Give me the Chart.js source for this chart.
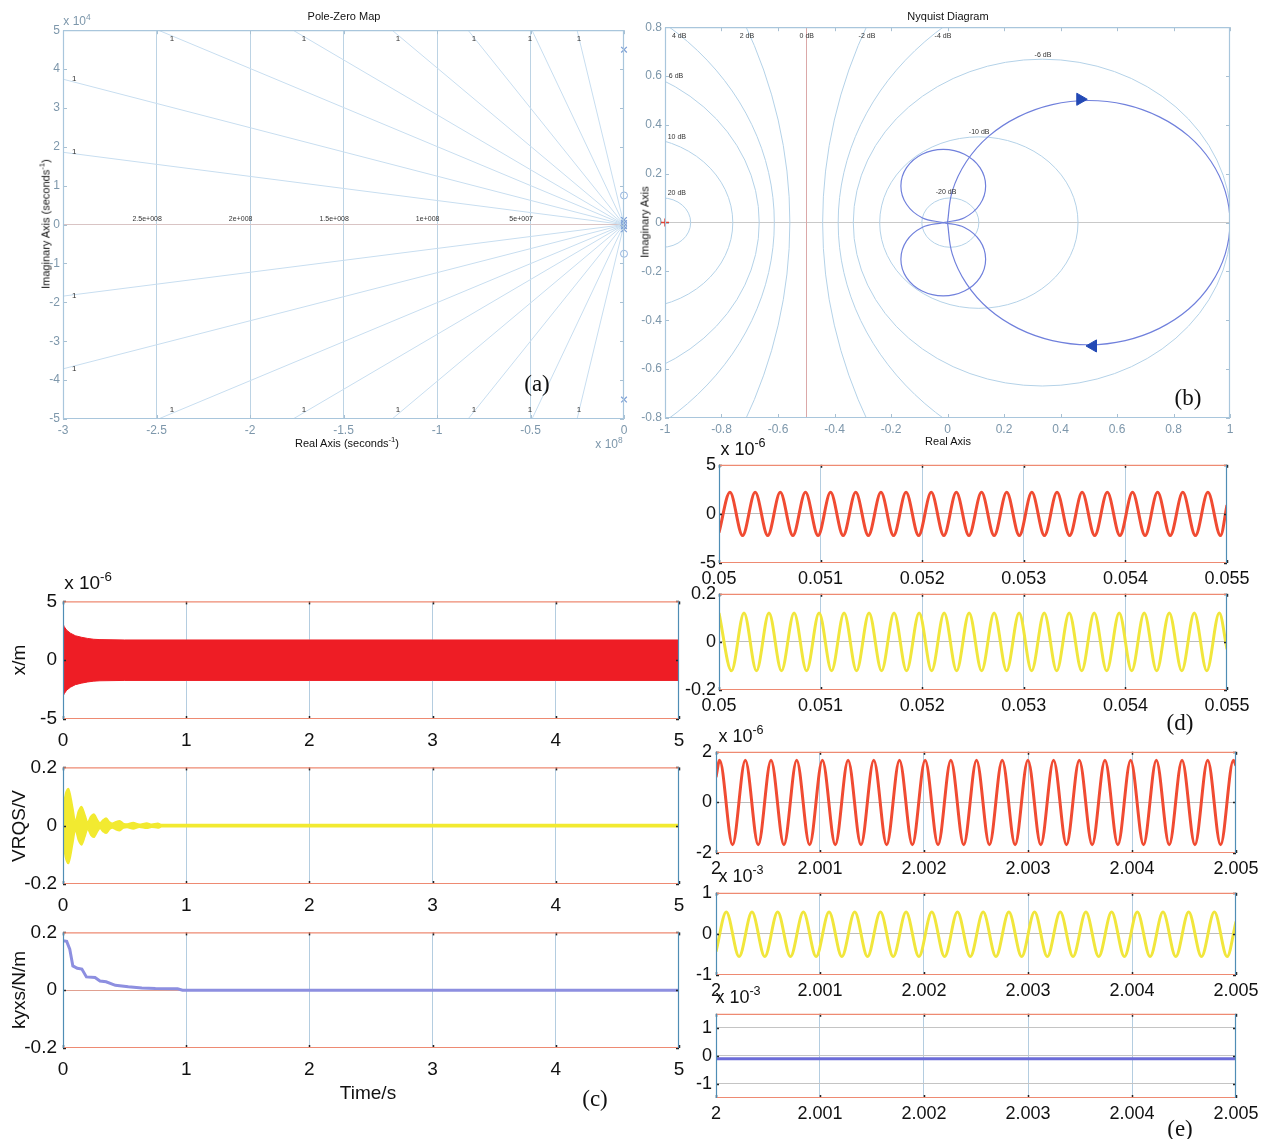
<!DOCTYPE html>
<html><head><meta charset="utf-8">
<script src="https://cdn.jsdelivr.net/npm/chart.js@4.4.1/dist/chart.umd.min.js"></script>
<style>
html,body{margin:0;padding:0;background:#fff;}
#wrap{position:relative;width:1265px;height:1139px;overflow:hidden;font-family:"Liberation Sans",Arial,sans-serif;color:#111;}
canvas{position:absolute;}
.t{position:absolute;white-space:nowrap;transform:translate(-50%,-50%);line-height:1;}
.rot{transform:translate(-50%,-50%) rotate(-90deg);}
.pl{font-family:"Liberation Serif","Times New Roman",serif;font-size:23px;}
sup{font-size:70%;vertical-align:0.6em;line-height:0;}
</style></head><body><div id="wrap"></div>
<script>
// ---------------- DATA ----------------
// (a) Pole-Zero Map  (real part in 1e8 s^-1, imaginary part in 1e4 s^-1)
const pzTickX = [-3,-2.5,-2,-1.5,-1,-0.5,0];
const pzTickXLabels = ['-3','-2.5','-2','-1.5','-1','-0.5','0'];
const pzTickY = [-5,-4,-3,-2,-1,0,1,2,3,4,5];
const pzTickYLabels = ['-5','-4','-3','-2','-1','0','1','2','3','4','5'];
const pzPoleRe = [0,0,0,0,0,0];
const pzPoleIm = [4.5,-4.5,0.12,-0.12,0.04,-0.04];
const pzZeroRe = [0,0];
const pzZeroIm = [0.75,-0.75];
const pzDampEndRe = [-3,-3,-2.49,-1.77,-1.24,-0.834,-0.492,-0.251,-3,-3,-2.49,-1.77,-1.24,-0.834,-0.492,-0.251];
const pzDampEndIm = [3.74,1.86,5,5,5,5,5,5,-3.71,-1.84,-5,-5,-5,-5,-5,-5];
const pzDampLabelRe = [-2.417,-1.711,-1.209,-0.802,-0.503,-0.241,-2.417,-1.711,-1.209,-0.802,-0.503,-0.241,-2.94,-2.94,-2.94,-2.94];
const pzDampLabelIm = [4.78,4.78,4.78,4.78,4.78,4.78,-4.76,-4.76,-4.76,-4.76,-4.76,-4.76,3.74,1.86,-1.84,-3.71];
const pzDampLabelText = ['1','1','1','1','1','1','1','1','1','1','1','1','1','1','1','1'];
const pzFreqLabelText = ['2.5e+008','2e+008','1.5e+008','1e+008','5e+007'];
const pzFreqLabelRe = [-2.55,-2.05,-1.55,-1.05,-0.55];
const pzFreqLabelIm = [0.13,0.13,0.13,0.13,0.13];

// (b) Nyquist Diagram
const nqTickX = [-1,-0.8,-0.6,-0.4,-0.2,0,0.2,0.4,0.6,0.8,1];
const nqTickXLabels = ['-1','-0.8','-0.6','-0.4','-0.2','0','0.2','0.4','0.6','0.8','1'];
const nqTickY = [-0.8,-0.6,-0.4,-0.2,0,0.2,0.4,0.6,0.8];
const nqTickYLabels = ['-0.8','-0.6','-0.4','-0.2','0','0.2','0.4','0.6','0.8'];
const mCircleCenter = [-1.0101,-1.111,-1.3355,-1.661,-2.71,1.71,0.661,0.3355,0.111,0.0101];
const mCircleRadius = [0.101,0.351,0.669,1.048,2.152,2.152,1.048,0.669,0.351,0.101];
const zeroDbLineRe = -0.5;
const nqLabelText = ['4 dB','2 dB','0 dB','-2 dB','-4 dB','-6 dB','-10 dB','-20 dB','6 dB','10 dB','20 dB'];
const nqLabelRe = [-0.950,-0.710,-0.498,-0.285,-0.016,0.338,0.112,-0.005,-0.961,-0.958,-0.958];
const nqLabelIm = [0.763,0.763,0.763,0.763,0.763,0.685,0.370,0.125,0.599,0.350,0.121];
const nqBigRe = [0,0.017,0.067,0.146,0.25,0.371,0.5,0.629,0.75,0.854,0.933,0.983,1,0.983,0.933,0.854,0.75,0.629,0.5,0.371,0.25,0.146,0.067,0.017,0];
const nqBigIm = [0,0.129,0.25,0.354,0.433,0.483,0.5,0.483,0.433,0.354,0.25,0.129,0,-0.129,-0.25,-0.354,-0.433,-0.483,-0.5,-0.483,-0.433,-0.354,-0.25,-0.129,0];
const nqLoopURe = [-0.015,0.06,0.115,0.135,0.115,0.06,-0.015,-0.09,-0.145,-0.165,-0.145,-0.09,-0.015];
const nqLoopUIm = [0,0.02,0.075,0.15,0.225,0.28,0.30,0.28,0.225,0.15,0.075,0.02,0];
const nqLoopLRe = [-0.015,0.06,0.115,0.135,0.115,0.06,-0.015,-0.09,-0.145,-0.165,-0.145,-0.09,-0.015];
const nqLoopLIm = [0,-0.02,-0.075,-0.15,-0.225,-0.28,-0.30,-0.28,-0.225,-0.15,-0.075,-0.02,0];
const nqArrowRe = [0.47,0.515];
const nqArrowIm = [0.505,-0.505];
const nqArrowRot = [90,-90];
const nqCriticalRe = [-1];
const nqCriticalIm = [0];

// (c) time responses 0..5 s
const cTickX = [0,1,2,3,4,5];
const cTickXLabels = ['0','1','2','3','4','5'];
const c1TickY = [-5,0,5];       const c1TickYLabels = ['-5','0','5'];
const c2TickY = [-0.2,0,0.2];   const c2TickYLabels = ['-0.2','0','0.2'];
const xEnvT = [0,0.01,0.03,0.06,0.1,0.15,0.2,0.25,0.3,0.5,1,2,3,4,5];
const xEnvUp = [3.1,2.85,2.55,2.3,2.08,1.95,1.85,1.78,1.75,1.72,1.72,1.72,1.72,1.72,1.72];
const xEnvLow = [-3.1,-2.85,-2.55,-2.3,-2.08,-1.95,-1.85,-1.78,-1.75,-1.72,-1.72,-1.72,-1.72,-1.72,-1.72];
const vEnvT = [0,0.012,0.044,0.08,0.1,0.125,0.15,0.18,0.2,0.225,0.25,0.28,0.3,0.325,0.35,0.38,0.4,0.43,0.46,0.49,0.52,0.57,0.62,0.68,0.72,0.77,0.8,1,5];
const vEnvUp = [0.03,0.09,0.128,0.06,0.016,0.05,0.066,0.035,0.012,0.032,0.04,0.02,0.01,0.02,0.026,0.012,0.008,0.014,0.017,0.008,0.006,0.011,0.005,0.009,0.005,0.008,0.004,0.004,0.004];
const vEnvLow = [-0.03,-0.09,-0.13,-0.06,-0.016,-0.05,-0.066,-0.035,-0.012,-0.032,-0.04,-0.02,-0.01,-0.02,-0.026,-0.012,-0.008,-0.014,-0.017,-0.008,-0.006,-0.011,-0.005,-0.009,-0.005,-0.008,-0.004,-0.004,-0.004];
const kT = [0,0.03,0.055,0.08,0.116,0.153,0.19,0.26,0.3,0.35,0.425,0.53,0.64,0.75,0.93,0.97,5];
const kV = [0.171,0.169,0.142,0.084,0.076,0.073,0.046,0.044,0.032,0.029,0.017,0.012,0.008,0.006,0.005,0,0];

// (d) zoom 0.05..0.055 s
const dTickX = [0.05,0.051,0.052,0.053,0.054,0.055];
const dTickXLabels = ['0.05','0.051','0.052','0.053','0.054','0.055'];
const d1T = [0.05,0.050108,0.050232,0.050356,0.050480,0.050603,0.050727,0.050851,0.050975,0.051098,0.051222,0.051346,0.051470,0.051594,0.051718,0.051841,0.051965,0.052089,0.052213,0.052336,0.052460,0.052584,0.052708,0.052832,0.052956,0.053079,0.053203,0.053327,0.053451,0.053574,0.053698,0.053822,0.053946,0.054070,0.054194,0.054317,0.054441,0.054565,0.054689,0.054812,0.054936,0.055];
const d1V = [-1.9,2.2,-2.2,2.2,-2.2,2.2,-2.2,2.2,-2.2,2.2,-2.2,2.2,-2.2,2.2,-2.2,2.2,-2.2,2.2,-2.2,2.2,-2.2,2.2,-2.2,2.2,-2.2,2.2,-2.2,2.2,-2.2,2.2,-2.2,2.2,-2.2,2.2,-2.2,2.2,-2.2,2.2,-2.2,2.2,-2.2,0.9];
const d2T = [0.05,0.050123,0.050246,0.050369,0.050492,0.050615,0.050739,0.050862,0.050985,0.051108,0.051231,0.051354,0.051477,0.051600,0.051723,0.051846,0.051970,0.052093,0.052216,0.052339,0.052462,0.052585,0.052708,0.052831,0.052954,0.053077,0.053201,0.053324,0.053447,0.053570,0.053693,0.053816,0.053939,0.054062,0.054185,0.054308,0.054432,0.054555,0.054678,0.054801,0.054924,0.055];
const d2V = [0.12,-0.12,0.12,-0.12,0.12,-0.12,0.12,-0.12,0.12,-0.12,0.12,-0.12,0.12,-0.12,0.12,-0.12,0.12,-0.12,0.12,-0.12,0.12,-0.12,0.12,-0.12,0.12,-0.12,0.12,-0.12,0.12,-0.12,0.12,-0.12,0.12,-0.12,0.12,-0.12,0.12,-0.12,0.12,-0.12,0.12,-0.03];

// (e) zoom 2..2.005 s
const eTickX = [2,2.001,2.002,2.003,2.004,2.005];
const eTickXLabels = ['2','2.001','2.002','2.003','2.004','2.005'];
const e1TickY = [-2,0,2];  const e1TickYLabels = ['-2','0','2'];
const e2TickY = [-1,0,1];  const e2TickYLabels = ['-1','0','1'];
const e1T = [2,2.000035,2.000159,2.000282,2.000406,2.000529,2.000653,2.000776,2.000900,2.001023,2.001147,2.001270,2.001394,2.001517,2.001641,2.001764,2.001888,2.002011,2.002135,2.002258,2.002382,2.002505,2.002629,2.002752,2.002876,2.002999,2.003123,2.003246,2.003370,2.003493,2.003617,2.003740,2.003864,2.003987,2.004111,2.004234,2.004358,2.004481,2.004605,2.004728,2.004852,2.004975,2.005];
const e1V = [1.0,1.67,-1.67,1.67,-1.67,1.67,-1.67,1.67,-1.67,1.67,-1.67,1.67,-1.67,1.67,-1.67,1.67,-1.67,1.67,-1.67,1.67,-1.67,1.67,-1.67,1.67,-1.67,1.67,-1.67,1.67,-1.67,1.67,-1.67,1.67,-1.67,1.67,-1.67,1.67,-1.67,1.67,-1.67,1.67,-1.67,1.67,1.45];
const e2T = [2,2.000099,2.000222,2.000346,2.000469,2.000593,2.000716,2.000840,2.000963,2.001087,2.001210,2.001334,2.001457,2.001581,2.001704,2.001828,2.001951,2.002075,2.002198,2.002322,2.002445,2.002569,2.002692,2.002816,2.002939,2.003063,2.003186,2.003310,2.003433,2.003557,2.003680,2.003804,2.003927,2.004051,2.004174,2.004298,2.004421,2.004545,2.004668,2.004792,2.004915,2.005];
const e2V = [-0.43,0.53,-0.55,0.53,-0.55,0.53,-0.55,0.53,-0.55,0.53,-0.55,0.53,-0.55,0.53,-0.55,0.53,-0.55,0.53,-0.55,0.53,-0.55,0.53,-0.55,0.53,-0.55,0.53,-0.55,0.53,-0.55,0.53,-0.55,0.53,-0.55,0.53,-0.55,0.53,-0.55,0.53,-0.55,0.53,-0.55,0.3];
const e3T = [2,2.005];
const e3V = [-0.1,-0.1];

// ---------------- RENDERING ----------------
Chart.defaults.font.family = '"Liberation Sans", Arial, sans-serif';
Chart.defaults.animation = false;
const wrap = document.getElementById('wrap');
const pts = (xs, ys) => xs.map((x, i) => ({x: x, y: ys[i]}));

function text(html, x, y, style, cls) {
  const d = document.createElement('div');
  d.className = 't' + (cls ? ' ' + cls : '');
  d.innerHTML = html;
  d.style.left = x + 'px'; d.style.top = y + 'px';
  if (style) d.setAttribute('style', d.getAttribute('style') + ';' + style);
  wrap.appendChild(d);
}

const framePlugin = {
  id: 'frame',
  afterDraw(chart, args, o) {
    if (!o || !o.left) return;
    const {ctx, chartArea: a, scales} = chart;
    const ln = (x1, y1, x2, y2, c, w) => { ctx.strokeStyle = c; ctx.lineWidth = w || 1; ctx.beginPath(); ctx.moveTo(x1, y1); ctx.lineTo(x2, y2); ctx.stroke(); };
    ctx.save();
    if (o.tick) {
      const L = o.tickLen || 3;
      scales.x.ticks.forEach(t => { const x = Math.round(scales.x.getPixelForValue(t.value)) + 0.5; ln(x, a.top, x, a.top + L, o.tick, o.tickW); ln(x, a.bottom, x, a.bottom - L, o.tick, o.tickW); });
      scales.y.ticks.forEach(t => { const y = Math.round(scales.y.getPixelForValue(t.value)) + 0.5; ln(a.left, y, a.left + L, y, o.tick, o.tickW); ln(a.right, y, a.right - L, y, o.tick, o.tickW); });
    }
    ln(a.left, a.top + 0.5, a.right, a.top + 0.5, o.top, 1.2);
    ln(a.left, a.bottom - 0.5, a.right, a.bottom - 0.5, o.bottom, 1.2);
    ln(a.left + 0.5, a.top, a.left + 0.5, a.bottom, o.left, 1.2);
    ln(a.right - 0.5, a.top, a.right - 0.5, a.bottom, o.right, 1.2);
    ctx.restore();
  }
};
const labelPlugin = {
  id: 'plotLabels',
  afterDatasetsDraw(chart, args, o) {
    if (!o || !o.sets) return;
    const {ctx, scales: {x, y}} = chart;
    ctx.save();
    ctx.textAlign = 'center'; ctx.textBaseline = 'middle';
    o.sets.forEach(s => {
      ctx.font = s.font; ctx.fillStyle = s.color;
      s.x.forEach((xv, i) => ctx.fillText(s.text[i], x.getPixelForValue(xv), y.getPixelForValue(s.y[i])));
    });
    ctx.restore();
  }
};
const circlePlugin = {
  id: 'mcircles',
  beforeDatasetsDraw(chart, args, o) {
    if (!o || !o.cx) return;
    const {ctx, chartArea: a, scales: {x, y}} = chart;
    ctx.save();
    ctx.beginPath(); ctx.rect(a.left, a.top, a.right - a.left, a.bottom - a.top); ctx.clip();
    ctx.strokeStyle = o.color; ctx.lineWidth = 1;
    o.cx.forEach((c, i) => {
      const px = x.getPixelForValue(c), py = y.getPixelForValue(0);
      const rx = Math.abs(x.getPixelForValue(c + o.r[i]) - px), ry = Math.abs(y.getPixelForValue(o.r[i]) - py);
      ctx.beginPath(); ctx.ellipse(px, py, rx, ry, 0, 0, Math.PI * 2); ctx.stroke();
    });
    const vx = Math.round(x.getPixelForValue(o.vline)) + 0.5;
    ctx.strokeStyle = o.vlineColor; ctx.beginPath(); ctx.moveTo(vx, a.top); ctx.lineTo(vx, a.bottom); ctx.stroke();
    ctx.restore();
  }
};
Chart.register(framePlugin, labelPlugin, circlePlugin);

function axis(min, max, vals, labels, o) {
  return {
    type: 'linear', min: min, max: max,
    afterBuildTicks: s => { s.ticks = vals.map(v => ({value: v})); },
    ticks: {autoSkip: false, maxRotation: 0, minRotation: 0, padding: o.pad, color: o.color || '#111',
            font: {size: o.size}, callback: (v, i) => labels[i]},
    grid: {drawTicks: false, lineWidth: 1,
           color: c => (c.tick && o.grid && o.grid.indexOf(c.tick.value) >= 0) ? o.gridColor : 'rgba(0,0,0,0)'},
    border: {display: false}
  };
}

function mk(b, type, datasets, xs, ys, plugins) {
  const c = document.createElement('canvas');
  const w = b.R - b.L + b.ML + b.MR, h = b.B - b.T + b.MT + b.MB;
  c.width = w; c.height = h;
  c.style.width = w + 'px'; c.style.height = h + 'px';
  c.style.left = (b.L - b.ML) + 'px'; c.style.top = (b.T - b.MT) + 'px';
  wrap.appendChild(c);
  xs.afterFit = s => { s.height = b.MB; };
  ys.afterFit = s => { s.width = b.ML; };
  const chart = new Chart(c, {
    type: type,
    data: {datasets: datasets},
    options: {
      responsive: false, maintainAspectRatio: false, animation: false, devicePixelRatio: 1,
      layout: {autoPadding: false, padding: {left: 0, top: b.MT, right: b.MR, bottom: 0}},
      scales: {x: xs, y: ys},
      plugins: Object.assign({legend: {display: false}, tooltip: {enabled: false}}, plugins || {})
    }
  });
  // align the plot area with the reference position
  let a = chart.chartArea;
  const dw = Math.round((b.R - b.L) - (a.right - a.left));
  const dh = Math.round((b.B - b.T) - (a.bottom - a.top));
  if (dw || dh) { chart.resize(w + dw, h + dh); a = chart.chartArea; }
  c.style.left = Math.round(b.L - a.left) + 'px';
  c.style.top = Math.round(b.T - a.top) + 'px';
  return chart;
}

const boxA = {L: 63, T: 30, R: 624, B: 419, ML: 40, MT: 6, MR: 14, MB: 26};
const boxB = {L: 665, T: 27, R: 1230, B: 418, ML: 40, MT: 6, MR: 14, MB: 26};
const boxC1 = {L: 63, T: 601, R: 679, B: 719, ML: 56, MT: 8, MR: 22, MB: 34};
const boxC2 = {L: 63, T: 767, R: 679, B: 884, ML: 56, MT: 8, MR: 22, MB: 34};
const boxC3 = {L: 63, T: 932, R: 679, B: 1048, ML: 56, MT: 8, MR: 22, MB: 34};
const boxD1 = {L: 719, T: 465, R: 1227, B: 563, ML: 50, MT: 8, MR: 34, MB: 30};
const boxD2 = {L: 719, T: 594, R: 1227, B: 690, ML: 50, MT: 8, MR: 34, MB: 30};
const boxE1 = {L: 716, T: 752, R: 1236, B: 853, ML: 50, MT: 8, MR: 28, MB: 30};
const boxE2 = {L: 716, T: 893, R: 1236, B: 975, ML: 50, MT: 8, MR: 28, MB: 30};
const boxE3 = {L: 716, T: 1014, R: 1236, B: 1098, ML: 50, MT: 8, MR: 28, MB: 30};

const smallTickColor = '#7d97ab';
const lightGrid = '#bcd4e6';
const frameSmall = {top: '#a9c6dc', bottom: '#a9c6dc', left: '#a9c6dc', right: '#a9c6dc', tick: '#a9c0d2', tickLen: 4, tickW: 1};
const frameBig = {top: '#ee8a72', bottom: '#ee8a72', left: '#4f8db5', right: '#4f8db5', tick: '#222', tickLen: 3, tickW: 1.5};

// ---- (a) Pole-Zero Map
const pzDatasets = pzDampEndRe.map((re, i) => ({
  data: pts([0, re], [0, pzDampEndIm[i]]), showLine: true, borderColor: '#c8def0', borderWidth: 1, pointRadius: 0
}));
pzDatasets.unshift(
  {data: pts(pzPoleRe, pzPoleIm), pointStyle: 'crossRot', pointRadius: 4, borderColor: '#7c9fd6', borderWidth: 1.2, clip: false, showLine: false},
  {data: pts(pzZeroRe, pzZeroIm), pointStyle: 'circle', pointRadius: 3.5, borderColor: '#92b2de', backgroundColor: 'rgba(0,0,0,0)', borderWidth: 1, clip: false, showLine: false}
);
mk(boxA, 'scatter', pzDatasets,
  axis(-3, 0, pzTickX, pzTickXLabels, {pad: 4, size: 12, color: smallTickColor, grid: [-2.5, -2, -1.5, -1, -0.5], gridColor: '#bcd3e4'}),
  axis(-5, 5, pzTickY, pzTickYLabels, {pad: 3, size: 12, color: smallTickColor, grid: [0], gridColor: '#d9c4c4'}),
  {frame: frameSmall,
   plotLabels: {sets: [
     {x: pzDampLabelRe, y: pzDampLabelIm, text: pzDampLabelText, font: '8px "Liberation Sans"', color: '#333'},
     {x: pzFreqLabelRe, y: pzFreqLabelIm, text: pzFreqLabelText, font: '7px "Liberation Sans"', color: '#333'}
   ]}});

// ---- (b) Nyquist Diagram
const nqDatasets = [
  {data: pts(nqArrowRe, nqArrowIm), pointStyle: 'triangle', rotation: nqArrowRot, pointRadius: 7, backgroundColor: '#2349b5', borderColor: '#2349b5', showLine: false},
  {data: pts(nqCriticalRe, nqCriticalIm), pointStyle: 'cross', pointRadius: 4, borderColor: '#e04030', borderWidth: 1.5, clip: false, showLine: false},
  {data: pts(nqBigRe, nqBigIm), showLine: true, tension: 0.4, borderColor: '#7080dc', borderWidth: 1.2, pointRadius: 0},
  {data: pts(nqLoopURe, nqLoopUIm), showLine: true, tension: 0.4, borderColor: '#7080dc', borderWidth: 1.2, pointRadius: 0},
  {data: pts(nqLoopLRe, nqLoopLIm), showLine: true, tension: 0.4, borderColor: '#7080dc', borderWidth: 1.2, pointRadius: 0}
];
mk(boxB, 'scatter', nqDatasets,
  axis(-1, 1, nqTickX, nqTickXLabels, {pad: 4, size: 12, color: smallTickColor, grid: [], gridColor: lightGrid}),
  axis(-0.8, 0.8, nqTickY, nqTickYLabels, {pad: 3, size: 12, color: smallTickColor, grid: [0], gridColor: '#c9c9c9'}),
  {frame: frameSmall,
   mcircles: {cx: mCircleCenter, r: mCircleRadius, color: '#b4d2e8', vline: zeroDbLineRe, vlineColor: '#dba8a8'},
   plotLabels: {sets: [{x: nqLabelRe, y: nqLabelIm, text: nqLabelText, font: '7px "Liberation Sans"', color: '#333'}]}});

// ---- (c)
const cX = () => axis(0, 5, cTickX, cTickXLabels, {pad: 10, size: 19, grid: [1, 2, 3, 4], gridColor: '#b4cde0'});
mk(boxC1, 'line', [
  {data: pts(xEnvT, xEnvUp), fill: '+1', backgroundColor: '#ee1d25', borderColor: '#ee1d25', borderWidth: 1, pointRadius: 0},
  {data: pts(xEnvT, xEnvLow), fill: false, borderColor: '#ee1d25', borderWidth: 1, pointRadius: 0}
], cX(), axis(-5, 5, c1TickY, c1TickYLabels, {pad: 6, size: 19, grid: [0], gridColor: '#bdbdbd'}), {frame: frameBig});
mk(boxC2, 'line', [
  {data: pts(vEnvT, vEnvUp), fill: '+1', backgroundColor: '#f2ea30', borderColor: '#f2ea30', borderWidth: 1.5, pointRadius: 0, cubicInterpolationMode: 'monotone'},
  {data: pts(vEnvT, vEnvLow), fill: false, borderColor: '#f2ea30', borderWidth: 1.5, pointRadius: 0, cubicInterpolationMode: 'monotone'}
], cX(), axis(-0.2, 0.2, c2TickY, c2TickYLabels, {pad: 6, size: 19, grid: [0], gridColor: '#bdbdbd'}), {frame: frameBig});
mk(boxC3, 'line', [
  {data: pts(kT, kV), borderColor: '#8d8fe0', borderWidth: 3, pointRadius: 0}
], cX(), axis(-0.2, 0.2, c2TickY, c2TickYLabels, {pad: 6, size: 19, grid: [0], gridColor: '#e0a090'}), {frame: frameBig});

// ---- (d)
const dX = () => axis(0.05, 0.055, dTickX, dTickXLabels, {pad: 5, size: 18, grid: [0.051, 0.052, 0.053, 0.054], gridColor: '#b4cde0'});
mk(boxD1, 'line', [
  {data: pts(d1T, d1V), borderColor: '#f04b32', borderWidth: 3, pointRadius: 0, cubicInterpolationMode: 'monotone'}
], dX(), axis(-5, 5, c1TickY, c1TickYLabels, {pad: 3, size: 18, grid: [0], gridColor: '#bdbdbd'}), {frame: frameBig});
mk(boxD2, 'line', [
  {data: pts(d2T, d2V), borderColor: '#f1e63c', borderWidth: 3, pointRadius: 0, cubicInterpolationMode: 'monotone'}
], dX(), axis(-0.2, 0.2, c2TickY, c2TickYLabels, {pad: 3, size: 18, grid: [0], gridColor: '#bdbdbd'}), {frame: frameBig});

// ---- (e)
const eX = () => axis(2, 2.005, eTickX, eTickXLabels, {pad: 5, size: 18, grid: [2.001, 2.002, 2.003, 2.004], gridColor: '#b4cde0'});
mk(boxE1, 'line', [
  {data: pts(e1T, e1V), borderColor: '#f04b32', borderWidth: 3, pointRadius: 0, cubicInterpolationMode: 'monotone'}
], eX(), axis(-2, 2, e1TickY, e1TickYLabels, {pad: 4, size: 18, grid: [0], gridColor: '#bdbdbd'}), {frame: frameBig});
mk(boxE2, 'line', [
  {data: pts(e2T, e2V), borderColor: '#f1e63c', borderWidth: 3, pointRadius: 0, cubicInterpolationMode: 'monotone'}
], eX(), axis(-1, 1, e2TickY, e2TickYLabels, {pad: 4, size: 18, grid: [0], gridColor: '#bdbdbd'}), {frame: frameBig});
mk(boxE3, 'line', [
  {data: pts(e3T, e3V), borderColor: '#6c6cd8', borderWidth: 3, pointRadius: 0}
], eX(), axis(-1.5, 1.5, e2TickY, e2TickYLabels, {pad: 4, size: 18, grid: [-1, 0, 1], gridColor: '#c4c4c4'}), {frame: frameBig});

// ---------------- TEXT ----------------
text('Pole-Zero Map', 344, 16, 'font-size:11px;');
text('Imaginary Axis (seconds<sup>-1</sup>)', 46, 224, 'font-size:11px;', 'rot');
text('Real Axis (seconds<sup>-1</sup>)', 347, 443, 'font-size:11px;');
text('x 10<sup>4</sup>', 77, 21, 'font-size:12px;color:#7d97ab;');
text('x 10<sup>8</sup>', 609, 444, 'font-size:12px;color:#7d97ab;');
text('(a)', 537, 383, '', 'pl');
text('Nyquist Diagram', 948, 16, 'font-size:11px;');
text('Imaginary Axis', 645, 222, 'font-size:11px;', 'rot');
text('Real Axis', 948, 441, 'font-size:11px;');
text('(b)', 1188, 397, '', 'pl');
text('x 10<sup>-6</sup>', 88, 582, 'font-size:19px;');
text('x/m', 18, 660, 'font-size:19px;', 'rot');
text('VRQS/V', 18, 826, 'font-size:19px;', 'rot');
text('kyxs/N/m', 18, 990, 'font-size:19px;', 'rot');
text('Time/s', 368, 1092, 'font-size:19px;');
text('(c)', 595, 1098, '', 'pl');
text('x 10<sup>-6</sup>', 743, 449, 'font-size:18px;');
text('(d)', 1180, 722, '', 'pl');
text('x 10<sup>-6</sup>', 741, 736, 'font-size:18px;');
text('x 10<sup>-3</sup>', 741, 876, 'font-size:18px;');
text('x 10<sup>-3</sup>', 738, 997, 'font-size:18px;');
text('(e)', 1180, 1128, '', 'pl');
</script></body></html>
